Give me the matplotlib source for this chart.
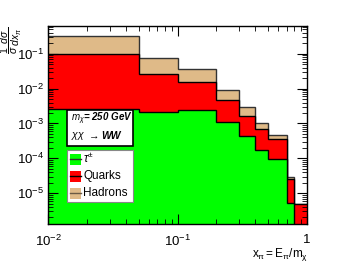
import numpy as np
import matplotlib
matplotlib.use("Agg")
import matplotlib.pyplot as plt
from matplotlib.patches import Rectangle
from matplotlib.lines import Line2D

plt.rcParams['font.family'] = ['Liberation Sans', 'DejaVu Sans']
plt.rcParams['mathtext.fontset'] = 'custom'
plt.rcParams['mathtext.rm'] = 'Liberation Sans'
plt.rcParams['mathtext.it'] = 'Liberation Sans:italic'
plt.rcParams['mathtext.bf'] = 'Liberation Sans:bold'

# bin edges in x = E_pi / m_chi
edges = [0.01, 0.05, 0.1, 0.2, 0.3, 0.4, 0.5, 0.7, 0.8, 1.0]
# stacked spectra
hadrons = [0.33, 0.077, 0.037, 0.0093, 2.9e-3, 1.0e-3, 4.8e-4, 3.0e-5, 4.8e-6]
quarks = [0.10, 0.027, 0.016, 4.6e-3, 1.6e-3, 6.9e-4, 3.6e-4, 2.5e-5, 4.8e-6]
taus = [2.6e-3, 2.1e-3, 2.5e-3, 1.07e-3, 4.4e-4, 1.7e-4, 9.5e-5, 5.1e-6, 1e-7]

tan = '#dfba88'
red = '#ff0000'
green = '#00ff00'
base = 1e-8

fig = plt.figure(figsize=(3.41, 2.64), dpi=100)
ax = fig.add_axes([48/341, 1 - 224/264, (307-48)/341, (224-26)/264])

for vals, col, ec in [(hadrons, tan, '#333333'), (quarks, red, 'black'), (taus, green, 'black')]:
    ax.stairs(vals, edges, baseline=base, fill=True, color=col)
    ax.stairs(vals, edges, baseline=None, color=ec, lw=1.0)

ax.set_xscale('log')
ax.set_yscale('log')
ax.set_xlim(0.01, 1.0)
ax.set_ylim(1.3e-6, 0.63)

ax.tick_params(which='both', direction='in', top=True, right=True, labelsize=9.5)
ax.tick_params(which='major', length=7)
ax.tick_params(which='minor', length=3.5)
ax.tick_params(axis='x', pad=7)
ax.tick_params(axis='y', pad=3)
ax.set_xticks([0.01, 0.1, 1.0])
ax.set_xticklabels([r'$10^{-2}$', r'$10^{-1}$', '1'])
for s in ax.spines.values():
    s.set_linewidth(1.0)

fig.text(11/341, 1 - 40/264, r'$\dfrac{1}{\sigma}\,\dfrac{d\sigma}{dx_{\pi}}$', rotation=90,
         ha='center', va='center', fontsize=7.5)
fig.text(308/341, 1 - 254/264, r'$\mathregular{x_{\pi}= E_{\pi}/m_{\chi}}$',
         ha='right', va='center', fontsize=8.5)

# info box
fig.patches.append(Rectangle((67/341, 1 - 146/264), 66/341, 36/264, transform=fig.transFigure,
                             facecolor='white', edgecolor='black', lw=1.2, zorder=1))
fig.text(71/341, 1 - 119/264, r'$m_{\chi}$= 250 GeV', fontsize=7,
         fontstyle='italic', fontweight='bold', va='center')
fig.text(71/341, 1 - 136/264, r'$\chi\chi$', fontsize=7.5, va='center')
fig.text(87/341, 1 - 136/264, r'$\rightarrow$', fontsize=7.5, va='center')
fig.text(101/341, 1 - 136/264, 'WW', fontsize=7.5, fontstyle='italic',
         fontweight='bold', va='center')

# legend
fig.patches.append(Rectangle((67/341, 1 - 202/264), 66/341, 52/264, transform=fig.transFigure,
                             facecolor='white', edgecolor='#888888', lw=0.8, zorder=1))
labels = [r'$\tau^{\pm}$', 'Quarks', 'Hadrons']
cols = [green, red, tan]
lcols = ['#333333', 'black', '#6b5a45']
for i, (lab, c, lc) in enumerate(zip(labels, cols, lcols)):
    yc = 1 - (159 + i * 17) / 264
    fig.patches.append(Rectangle((70/341, yc - 5.5/264), 11/341, 11/264, transform=fig.transFigure,
                                 facecolor=c, edgecolor='none', zorder=2))
    fig.lines.append(Line2D([70/341, 81/341], [yc, yc], transform=fig.transFigure,
                            color=lc, lw=1.0, zorder=3))
    fig.text(83/341, yc, lab, fontsize=8.5, va='center')

fig.savefig('out.png', dpi=100)
